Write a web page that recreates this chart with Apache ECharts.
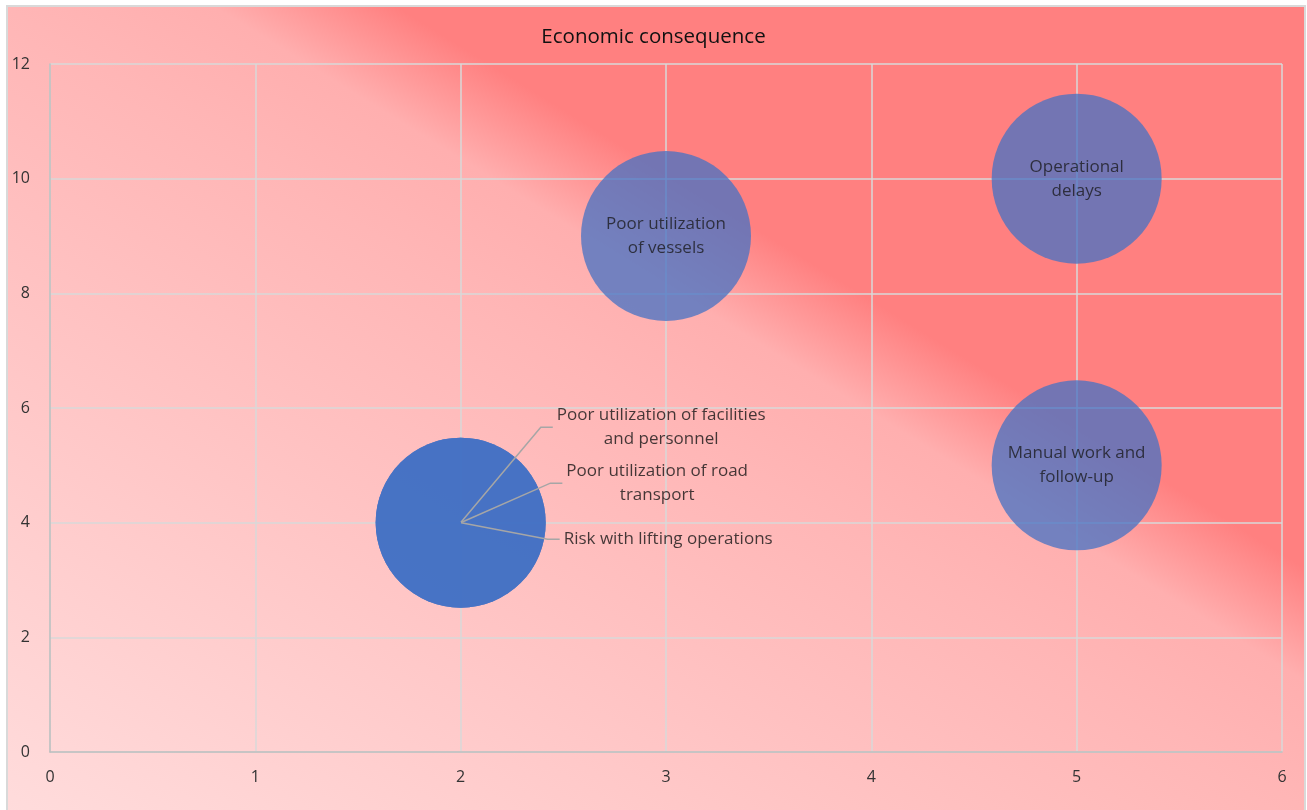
<!DOCTYPE html>
<html>
<head>
<meta charset="utf-8">
<title>Economic consequence</title>
<script src="https://cdn.jsdelivr.net/npm/echarts@6/dist/echarts.min.js"></script>
<style>
  html, body { margin: 0; padding: 0; background: #fff; }
  #chart { width: 1307px; height: 810px; }
</style>
</head>
<body>
<div id="chart"></div>
<script>
// data
const riskNames = [
  'Poor utilization of facilities\nand personnel',
  'Poor utilization of road\ntransport',
  'Risk with lifting operations',
  'Poor utilization\nof vessels',
  'Operational\ndelays',
  'Manual work and\nfollow-up',
];
const probability = [2, 2, 2, 3, 5, 5];
const consequence = [4, 4, 4, 9, 10, 5];
const bubbleSize = [1, 1, 1, 1, 1, 1];
const xTicks = [0, 1, 2, 3, 4, 5, 6];
const yTicks = [0, 2, 4, 6, 8, 10, 12];

const FONT = '"Open Sans", "Noto Sans", sans-serif';
const MAX_DIAMETER = 170;
const maxSize = Math.max(...bubbleSize);

// points that sit on top of each other get leader-line labels
const isStacked = probability.map((x, i) =>
  probability.some((x2, j) => j !== i && x2 === x && consequence[j] === consequence[i])
);

// label offsets (px) from bubble centre for the stacked labels
const leaderOffsets = [[199, -95], [195, -39], [206, 17]];

const bubbleData = probability.map((x, i) => ({
  value: [x, consequence[i], bubbleSize[i]],
  name: riskNames[i],
  label: { show: !isStacked[i] },
}));

let k = 0;
const leaderData = [];
probability.forEach((x, i) => {
  if (!isStacked[i]) return;
  const off = leaderOffsets[k++] || [200, 0];
  leaderData.push({
    value: [x, consequence[i]],
    name: riskNames[i],
    label: { position: [off[0], off[1]] },
  });
});

const chart = echarts.init(document.getElementById('chart'));

const option = {
  animation: false,
  backgroundColor: '#ffffff',
  graphic: [
    {
      type: 'rect',
      z: -10,
      silent: true,
      shape: { x: 7, y: 6, width: 1298, height: 806 },
      style: {
        fill: new echarts.graphic.LinearGradient(0.2225, 1.2225, 0.7775, -0.2225, [
          { offset: 0, color: '#ffdcdc' },
          { offset: 0.5, color: '#ffb6b6' },
          { offset: 0.58, color: '#ffafaf' },
          { offset: 0.65, color: '#ff8080' },
          { offset: 1, color: '#ff8080' },
        ]),
        stroke: '#d9d9d9',
        lineWidth: 2,
      },
    },
  ],
  title: {
    text: 'Economic consequence',
    left: 'center',
    top: 22,
    textStyle: {
      fontFamily: FONT,
      fontSize: 20.5,
      fontWeight: 'normal',
      color: '#111111',
    },
  },
  grid: {
    left: 50,
    right: 25,
    top: 64,
    bottom: 58,
    containLabel: false,
  },
  xAxis: {
    type: 'value',
    min: xTicks[0],
    max: xTicks[xTicks.length - 1],
    interval: xTicks[1] - xTicks[0],
    axisLine: { show: true, onZero: false, lineStyle: { color: '#bfbfbf', width: 1.5 } },
    axisTick: { show: false },
    splitLine: { show: true, lineStyle: { color: '#d9d9d9', width: 1.5 } },
    axisLabel: { color: '#333333', fontFamily: FONT, fontSize: 16, margin: 17 },
  },
  yAxis: {
    type: 'value',
    min: yTicks[0],
    max: yTicks[yTicks.length - 1],
    interval: yTicks[1] - yTicks[0],
    axisLine: { show: true, onZero: false, lineStyle: { color: '#bfbfbf', width: 1.5 } },
    axisTick: { show: false },
    splitLine: { show: true, lineStyle: { color: '#d9d9d9', width: 1.5 } },
    axisLabel: { color: '#333333', fontFamily: FONT, fontSize: 16, margin: 20 },
  },
  series: [
    {
      // the bubbles
      type: 'scatter',
      data: bubbleData,
      symbolSize: (val) => MAX_DIAMETER * Math.sqrt(val[2] / maxSize),
      itemStyle: { color: '#4472C4', opacity: 0.75 },
      emphasis: { disabled: true },
      label: {
        position: 'inside',
        formatter: (p) => p.name,
        color: '#151515',
        fontFamily: FONT,
        fontSize: 17,
        lineHeight: 24,
        align: 'center',
      },
      z: 3,
    },
    {
      // labels with leader lines for the stacked bubbles
      type: 'scatter',
      data: leaderData,
      symbolSize: 1,
      itemStyle: { color: 'rgba(0,0,0,0)' },
      emphasis: { disabled: true },
      label: {
        show: true,
        formatter: (p) => p.name,
        color: '#151515',
        fontFamily: FONT,
        fontSize: 17,
        lineHeight: 24,
        align: 'center',
        verticalAlign: 'middle',
        padding: [0, 0, 0, 4],
      },
      labelLine: {
        show: true,
        length2: 12,
        lineStyle: { color: '#a6a6a6', width: 1.5 },
      },
      z: 4,
    },
  ],
};

chart.setOption(option);
</script>
</body>
</html>
